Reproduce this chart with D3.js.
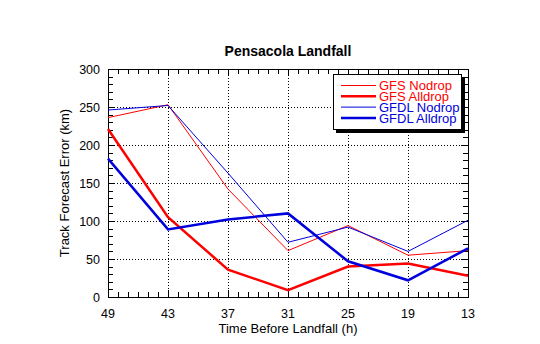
<!DOCTYPE html>
<html><head><meta charset="utf-8">
<script src="https://cdn.jsdelivr.net/npm/d3@7/dist/d3.min.js"></script>
<style>body{margin:0;background:#fff;}svg{display:block;font-family:"Liberation Sans",Arial,sans-serif;}</style>
</head><body>
<svg id="c" width="540" height="344"></svg>
<script>
const hours = [49, 43, 37, 31, 25, 19, 13];
const gfsNodrop = [236, 253, 142, 61, 94, 55, 61];
const gfsAlldrop = [221, 105, 36, 9, 40, 44, 28];
const gfdlNodrop = [246, 252, 163, 72, 92, 60, 101];
const gfdlAlldrop = [182, 89, 102, 110, 47, 22, 64];
const yTicks = [0, 50, 100, 150, 200, 250, 300];
const seriesNames = ["GFS Nodrop", "GFS Alldrop", "GFDL Nodrop", "GFDL Alldrop"];

const RED = "#ff0000", BLUE = "#0000dd";
const series = [
  {name: seriesNames[0], values: gfsNodrop, color: RED, w: 1},
  {name: seriesNames[1], values: gfsAlldrop, color: RED, w: 2.5},
  {name: seriesNames[2], values: gfdlNodrop, color: BLUE, w: 1},
  {name: seriesNames[3], values: gfdlAlldrop, color: BLUE, w: 2.5}
];

const svg = d3.select("#c");
const L = 108, R = 468, T = 69, B = 297;
const x = d3.scaleLinear().domain([49, 13]).range([L, R]);
const y = d3.scaleLinear().domain([0, 300]).range([B, T]);

// grid
const g = svg.append("g");
g.selectAll(".gx").data(hours.slice(1, -1)).enter().append("line")
  .attr("x1", d => x(d) + 0.5).attr("x2", d => x(d) + 0.5).attr("y1", T).attr("y2", B)
  .attr("stroke", "#000").attr("stroke-width", 1).attr("stroke-dasharray", "1,2");
g.selectAll(".gy").data(yTicks.slice(1, -1)).enter().append("line")
  .attr("y1", d => Math.round(y(d)) + 0.5).attr("y2", d => Math.round(y(d)) + 0.5).attr("x1", L).attr("x2", R)
  .attr("stroke", "#000").attr("stroke-width", 1).attr("stroke-dasharray", "1,2");

// minor ticks
const xMinor = d3.range(13, 50, 1);
const yMinor = d3.range(0, 301, 10);
const tk = svg.append("g").attr("stroke", "#000").attr("stroke-width", 1);
xMinor.forEach(h => {
  const px = Math.round(x(h)) + 0.5;
  const len = hours.includes(h) ? 7 : 5;
  tk.append("line").attr("x1", px).attr("x2", px).attr("y1", B).attr("y2", B - len);
  tk.append("line").attr("x1", px).attr("x2", px).attr("y1", T).attr("y2", T + len);
});
yMinor.forEach(v => {
  const py = Math.round(y(v)) + 0.5;
  const len = yTicks.includes(v) ? 7 : 5;
  tk.append("line").attr("y1", py).attr("y2", py).attr("x1", L).attr("x2", L + len);
  tk.append("line").attr("y1", py).attr("y2", py).attr("x1", R).attr("x2", R - len);
});

// frame
svg.append("rect").attr("x", L + 0.5).attr("y", T + 0.5).attr("width", R - L).attr("height", B - T)
  .attr("fill", "none").attr("stroke", "#000").attr("stroke-width", 1);

// lines
const line = d3.line().x((d, i) => x(hours[i])).y(d => y(d));
series.forEach(s => {
  svg.append("path").datum(s.values).attr("d", line)
    .attr("fill", "none").attr("stroke", s.color).attr("stroke-width", s.w)
    .attr("stroke-linejoin", "miter");
});

// tick labels
svg.selectAll(".xl").data(hours).enter().append("text")
  .attr("x", d => x(d)).attr("y", 318).attr("text-anchor", "middle")
  .attr("font-size", 12.5).text(d => d);
svg.selectAll(".yl").data(yTicks).enter().append("text")
  .attr("x", 100).attr("y", d => y(d) + 4.5).attr("text-anchor", "end")
  .attr("font-size", 12.5).text(d => d);

// titles
svg.append("text").attr("x", 288).attr("y", 56).attr("text-anchor", "middle")
  .attr("font-size", 14).attr("font-weight", "bold").text("Pensacola Landfall");
svg.append("text").attr("x", 288).attr("y", 333).attr("text-anchor", "middle")
  .attr("font-size", 13).text("Time Before Landfall (h)");
svg.append("text").attr("transform", "translate(69,183) rotate(-90)").attr("text-anchor", "middle")
  .attr("font-size", 13).text("Track Forecast Error (km)");

// legend
const lg = svg.append("g");
lg.append("rect").attr("x", 336).attr("y", 77).attr("width", 129).attr("height", 56).attr("fill", "#000");
lg.append("rect").attr("x", 333.5).attr("y", 74.5).attr("width", 128).attr("height", 55)
  .attr("fill", "#fff").attr("stroke", "#000").attr("stroke-width", 1);
series.forEach((s, i) => {
  const cy = 85.5 + i * 10.8;
  lg.append("line").attr("x1", 341).attr("x2", 376).attr("y1", cy).attr("y2", cy)
    .attr("stroke", s.color).attr("stroke-width", s.w);
  lg.append("text").attr("x", 379).attr("y", cy + 4.6).attr("font-size", 13)
    .attr("fill", s.color).text(s.name);
});
</script>
</body></html>
